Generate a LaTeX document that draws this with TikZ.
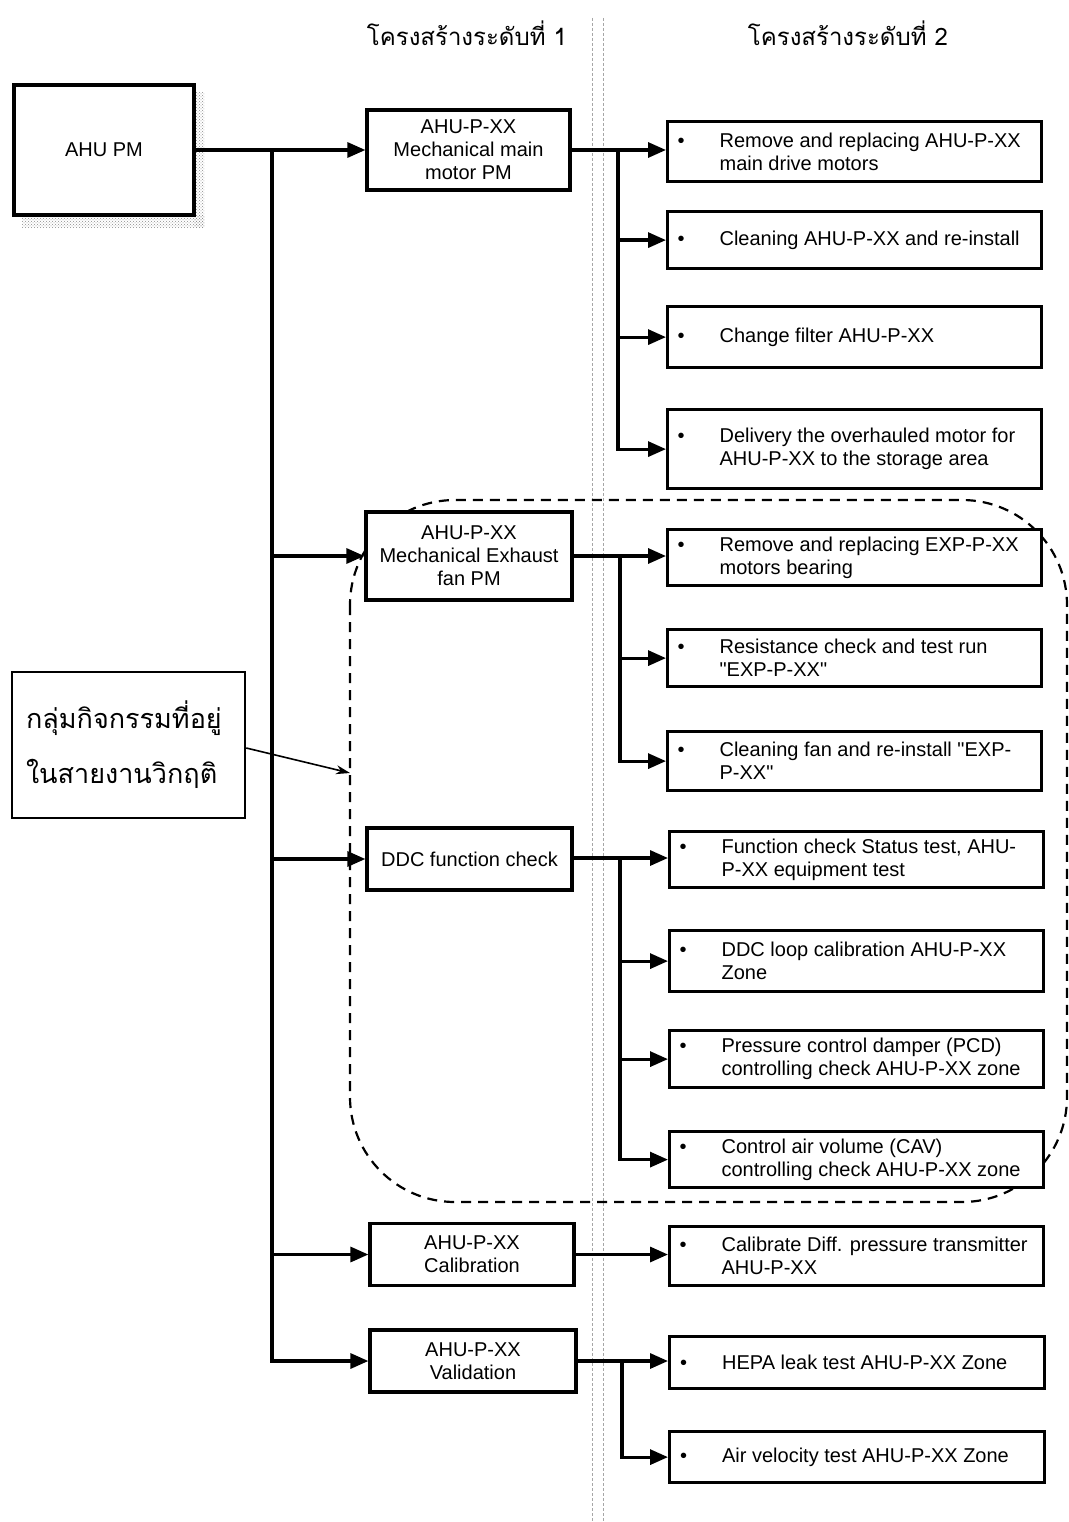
\documentclass[tikz,border=0pt]{standalone}
\usepackage{fontspec}
\setmainfont{Liberation Sans}[Ligatures=TeXOff]
\newfontfamily\thaifont[Script=Thai]{Loma}
\usetikzlibrary{arrows.meta,patterns}
\newcommand\itm[1]{\makebox[44pt][l]{\hspace{2pt}\textbullet}\begin{minipage}[t]{314pt}\raggedright #1\end{minipage}}
\begin{document}
\begin{tikzpicture}[x=1pt,y=-1pt,
  every node/.style={font=\fontsize{20}{23}\selectfont, inner sep=0pt},
  lvone/.style={draw, line width=3.2pt, fill=white, align=center},
  lvtwo/.style={draw, line width=3.2pt, fill=white, minimum width=374pt, anchor=north west},
  arr/.style={line width=3.2pt, -{Triangle[length=18pt,width=15pt]}},
  guide/.style={gray!70, line width=0.8pt, dash pattern=on 3pt off 2pt},
  group/.style={line width=2.2pt, dash pattern=on 10pt off 7pt, rounded corners=105pt},
  note/.style={draw, line width=2.5pt, fill=white, font=\thaifont\fontsize{27}{55}\selectfont, align=left}
]
\useasboundingbox (0,0) rectangle (1068,1522);
\fill[white] (0,0) rectangle (1068,1522);

% guide lines
\draw[guide] (592,18) -- (592,1522);
\draw[guide] (603,18) -- (603,1522);

% headers
\node[font=\thaifont\fontsize{24}{28}\selectfont] (h1) at (467,33) {โครงสร้างระดับที่ 1};
\node[font=\thaifont\fontsize{24}{28}\selectfont] (h2) at (848,33) {โครงสร้างระดับที่ 2};

% dashed group
\draw[group] (350,500) rectangle (1067,1202);

% root
\fill[pattern=crosshatch dots, pattern color=gray!90] (194,93) rectangle (204,228);
\fill[pattern=crosshatch dots, pattern color=gray!90] (22,216) rectangle (204,228);
\node[draw, line width=4pt, fill=white, minimum width=180pt, minimum height=130pt] (root) at (104,150) {AHU PM};

% level 1
\node[lvone, minimum width=203pt, minimum height=80pt] (a) at (468.5,150) {AHU-P-XX\\Mechanical main\\motor PM};
\node[lvone, minimum width=206pt, minimum height=88pt] (b) at (469,556) {AHU-P-XX\\Mechanical Exhaust\\fan PM};
\node[lvone, minimum width=205pt, minimum height=62pt] (c) at (469.5,859) {DDC function check};
\node[lvone, minimum width=204pt, minimum height=62pt] (d) at (472,1254.5) {AHU-P-XX\\Calibration};
\node[lvone, minimum width=206pt, minimum height=62pt] (e) at (473,1361) {AHU-P-XX\\Validation};

% level 2
\node[lvtwo, minimum height=60pt] (a1) at (666,120) {\itm{Remove and replacing AHU-P-XX\\main drive motors}};
\node[lvtwo, minimum height=57pt] (a2) at (666,210) {\itm{Cleaning AHU-P-XX and re-install}};
\node[lvtwo, minimum height=61pt] (a3) at (666,305) {\itm{Change filter AHU-P-XX}};
\node[lvtwo, minimum height=79pt] (a4) at (666,408) {\itm{Delivery the overhauled motor for\\AHU-P-XX to the storage area}};
\node[lvtwo, minimum height=56pt] (b1) at (666,528) {\itm{Remove and replacing EXP-P-XX\\motors bearing}};
\node[lvtwo, minimum height=57pt] (b2) at (666,628) {\itm{Resistance check and test run\\"EXP-P-XX"}};
\node[lvtwo, minimum height=59pt] (b3) at (666,730) {\itm{Cleaning fan and re-install "EXP-\\P-XX"}};
\node[lvtwo, minimum height=56pt] (c1) at (668,830) {\itm{Function check Status test, AHU-\\P-XX equipment test}};
\node[lvtwo, minimum height=61pt] (c2) at (668,929) {\itm{DDC loop calibration AHU-P-XX\\Zone}};
\node[lvtwo, minimum height=57pt] (c3) at (668,1029) {\itm{Pressure control damper (PCD)\\controlling check AHU-P-XX zone}};
\node[lvtwo, minimum height=56pt] (c4) at (668,1130) {\itm{Control air volume (CAV)\\controlling check AHU-P-XX zone}};
\node[lvtwo, minimum height=59pt] (d1) at (668,1225) {\itm{Calibrate Diff. pressure transmitter\\AHU-P-XX}};
\node[lvtwo, minimum height=52pt, minimum width=375pt] (e1) at (668,1335) {\itm{HEPA leak test AHU-P-XX Zone}};
\node[lvtwo, minimum height=51pt, minimum width=375pt] (e2) at (668,1430) {\itm{Air velocity test AHU-P-XX Zone}};

% note
\node[note, minimum width=233pt, minimum height=146pt, text width=205pt] (n) at (128.5,745) {กลุ่มกิจกรรมที่อยู่\\ในสายงานวิกฤติ};
\coordinate (gp) at (350,773);
\draw[line width=1.6pt, -{Stealth[length=14pt,width=9pt]}] (n.east |- 0,748) -- (gp);

% trunk
\coordinate (t0) at (272,150);
\draw[arr] (root.east |- t0) -- (a.west |- t0);
\draw[arr] (t0) |- (b.west);
\draw[arr] (t0) |- (c.west);
\draw[arr] (t0) |- (d.west);
\draw[arr] (t0) |- (e.west);

% branch a
\coordinate (ja) at (618,150);
\draw[arr] (a.east |- ja) -- (a1.west |- ja);
\draw[arr] (ja) |- (a2.west);
\draw[arr] (ja) |- (a3.west);
\draw[arr] (ja) |- (a4.west);

% branch b
\coordinate (jb) at (620,556);
\draw[arr] (b.east |- jb) -- (b1.west |- jb);
\draw[arr] (jb) |- (b2.west);
\draw[arr] (jb) |- (b3.west);

% branch c
\coordinate (jc) at (620,858);
\draw[arr] (c.east |- jc) -- (c1.west |- jc);
\draw[arr] (jc) |- (c2.west);
\draw[arr] (jc) |- (c3.west);
\draw[arr] (jc) |- (c4.west);

% branch d
\coordinate (jd) at (620,1254.5);
\draw[arr] (d.east |- jd) -- (d1.west |- jd);

% branch e
\coordinate (je) at (622,1361);
\draw[arr] (e.east |- je) -- (e1.west |- je);
\draw[arr] (je) |- (e2.west);
\end{tikzpicture}
\end{document}
